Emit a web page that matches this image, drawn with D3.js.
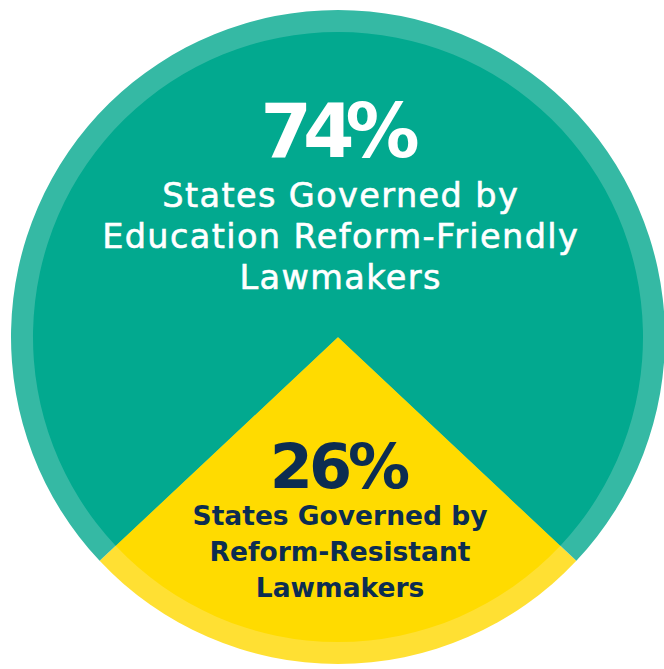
<!DOCTYPE html>
<html>
<head>
<meta charset="utf-8">
<script src="https://cdn.jsdelivr.net/npm/d3@7"></script>
<style>
  html, body { margin: 0; padding: 0; background: #fff; }
  svg { display: block; }
</style>
</head>
<body>
<div id="chart"></div>
<script>
// data
var categories = ['Reform-Resistant', 'Reform-Friendly'];
var values = [26, 74];
var pct_labels = ['26%', '74%'];
var label_lines = [
  ['States Governed by', 'Reform-Resistant', 'Lawmakers'],
  ['States Governed by', 'Education Reform-Friendly', 'Lawmakers']
];

var chart_width = 664;
var chart_height = 669;
var cx = 338, cy = 337;
var outer_r = 327, inner_r = 305;

var fill_inner = ['#ffdb00', '#02a98f'];
var fill_ring = ['#ffe033', '#35b9a4'];
var text_col = ['#0c2d51', '#ffffff'];

var svg = d3.select('#chart')
  .append('svg')
  .attr('width', chart_width)
  .attr('height', chart_height);

// yellow slice centred at the bottom
var half = Math.PI * values[0] / d3.sum(values);
var pie = d3.pie()
  .sort(null)
  .startAngle(Math.PI - half)
  .endAngle(Math.PI - half + 2 * Math.PI);

var arcs = pie(values);

var g = svg.append('g')
  .attr('transform', 'translate(' + cx + ',' + cy + ')');

// lighter outer ring
g.selectAll('path.ring')
  .data(arcs)
  .enter()
  .append('path')
  .attr('class', 'ring')
  .attr('d', d3.arc().innerRadius(0).outerRadius(outer_r))
  .attr('fill', function(d, i) { return fill_ring[i]; });

// main slices
g.selectAll('path.slice')
  .data(arcs)
  .enter()
  .append('path')
  .attr('class', 'slice')
  .attr('d', d3.arc().innerRadius(0).outerRadius(inner_r))
  .attr('fill', function(d, i) { return fill_inner[i]; });

// labels
var label_pos = [
  { pct_y: 488 - cy, pct_size: 62, pct_ls: -4, line_y: 525 - cy, line_gap: 36, size: 26.5, ls: 0, weight: 'bold', stroke: 0 },
  { pct_y: 157 - cy, pct_size: 74, pct_ls: -9, line_y: 207 - cy, line_gap: 41, size: 33.5, ls: 1.4, weight: 'normal', stroke: 0.6 }
];

arcs.forEach(function(d, i) {
  var p = label_pos[i];
  // trailing letter-spacing shifts a centred line, so compensate by half of it
  g.append('text')
    .text(pct_labels[i])
    .attr('x', 2 + p.pct_ls / 2)
    .attr('y', p.pct_y)
    .attr('text-anchor', 'middle')
    .attr('font-family', 'DejaVu Sans, sans-serif')
    .attr('font-weight', 'bold')
    .attr('font-size', p.pct_size)
    .attr('letter-spacing', p.pct_ls)
    .attr('fill', text_col[i]);

  label_lines[i].forEach(function(line, j) {
    g.append('text')
      .text(line)
      .attr('x', 2 + p.ls / 2)
      .attr('y', p.line_y + j * p.line_gap)
      .attr('text-anchor', 'middle')
      .attr('font-family', 'DejaVu Sans, sans-serif')
      .attr('font-weight', p.weight)
      .attr('font-size', p.size)
      .attr('letter-spacing', p.ls)
      .attr('fill', text_col[i])
      .attr('stroke', p.stroke ? text_col[i] : 'none')
      .attr('stroke-width', p.stroke);
  });
});
</script>
</body>
</html>
